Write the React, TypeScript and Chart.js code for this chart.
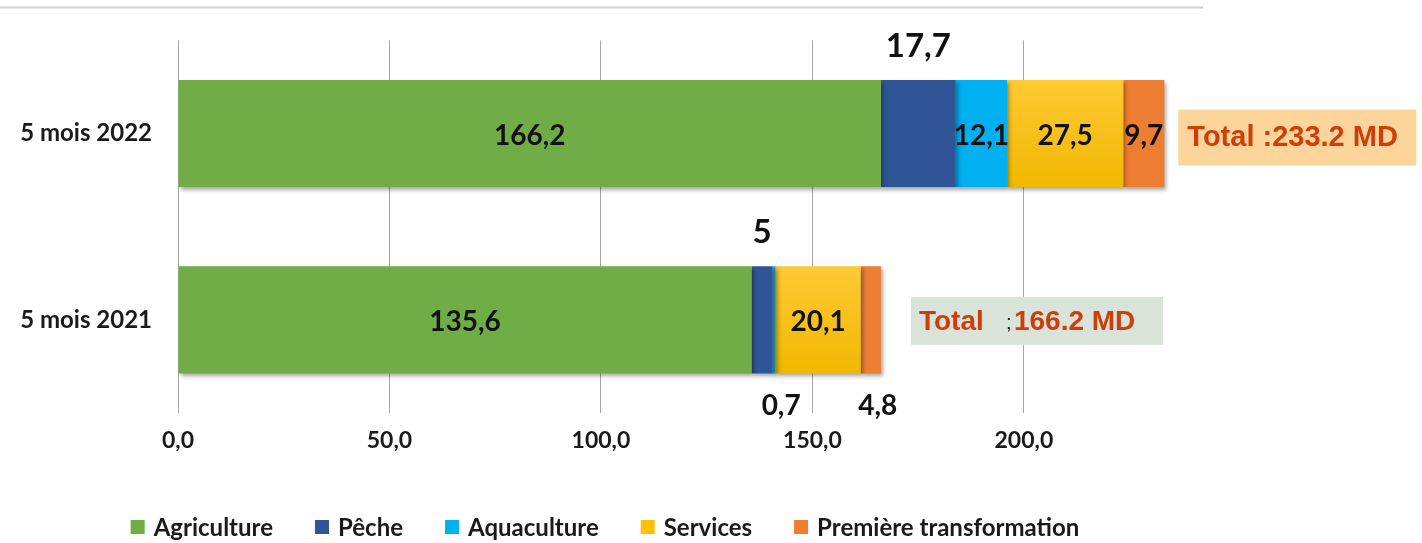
import React, { useEffect, useRef } from "react";
import { Chart, registerables } from "chart.js";

Chart.register(...registerables);

const categories = ["5 mois 2022", "5 mois 2021"];
const seriesNames = ["Agriculture", "Pêche", "Aquaculture", "Services", "Première transformation"];
const agriculture = [166.2, 135.6];
const peche = [17.7, 5];
const aquaculture = [12.1, 0.7];
const services = [27.5, 20.1];
const premiereTransformation = [9.7, 4.8];
const xTicks = [0, 50, 100, 150, 200];
const colors = ["#70ad47", "#2f5597", "#00b0f0", "#ffc000", "#ed7d31"];
// label placement per series / category
const labelPlacement = [
  ["in", "in"],
  ["above", "above"],
  ["in", "below"],
  ["in", "in"],
  ["in", "below"],
];

const FONT = "Lato, 'Open Sans', sans-serif";
const TOTAL_FONT = "'Liberation Sans', Arial, sans-serif";

const fmt = (v: number) => String(v).replace(".", ",");

const shadowPlugin = {
  id: "barShadow",
  beforeDatasetsDraw(chart: any) {
    const ctx = chart.ctx;
    ctx.save();
    ctx.shadowColor = "rgba(0,0,0,0.35)";
    ctx.shadowBlur = 4;
    ctx.shadowOffsetX = 2;
    ctx.shadowOffsetY = 3;
  },
  afterDatasetsDraw(chart: any) {
    chart.ctx.restore();
  },
};

const decorPlugin = {
  id: "decor",
  beforeDraw(chart: any) {
    const ctx = chart.ctx;
    ctx.save();
    ctx.fillStyle = "#ffffff";
    ctx.fillRect(0, 0, chart.width, chart.height);
    ctx.strokeStyle = "#d2d2d2";
    ctx.lineWidth = 2;
    ctx.beginPath();
    ctx.moveTo(0, 7.5);
    ctx.lineTo(1203, 7.5);
    ctx.stroke();
    ctx.restore();
  },
  afterDraw(chart: any) {
    const ctx = chart.ctx;
    ctx.save();
    // data labels
    chart.data.datasets.forEach((ds: any, di: number) => {
      const meta = chart.getDatasetMeta(di);
      meta.data.forEach((el: any, i: number) => {
        const v = ds.data[i];
        const place = labelPlacement[di][i];
        const cx = (el.x + el.base) / 2;
        const half = el.height / 2;
        ctx.fillStyle = "#111111";
        ctx.textAlign = "center";
        ctx.textBaseline = "middle";
        if (place === "in") {
          ctx.font = `bold 28px ${FONT}`;
          ctx.fillText(fmt(v), cx, el.y + 2);
        } else if (place === "above") {
          ctx.font = `bold 33px ${FONT}`;
          ctx.fillText(fmt(v), cx, el.y - half - 34);
        } else {
          ctx.font = `bold 28px ${FONT}`;
          ctx.fillText(fmt(v), cx + 7, el.y + half + 33);
        }
      });
    });
    // totals
    const last = chart.getDatasetMeta(chart.data.datasets.length - 1).data;
    const totals = categories.map((_, i) =>
      chart.data.datasets.reduce((s: number, ds: any) => s + ds.data[i], 0)
    );
    // box 2022
    {
      const el = last[0];
      const left = el.x + 14;
      const top = el.y - 24;
      ctx.fillStyle = "#fdd59b";
      ctx.fillRect(left, top, 238, 56);
      ctx.fillStyle = "#cf3d0a";
      ctx.font = `bold 29px ${TOTAL_FONT}`;
      ctx.textAlign = "left";
      ctx.textBaseline = "middle";
      ctx.fillText(`Total :${totals[0].toFixed(1)} MD`, left + 9, top + 28);
    }
    // box 2021
    {
      const el = last[1];
      const left = el.x + 30;
      const top = el.y - 23;
      ctx.fillStyle = "#d9e3da";
      ctx.fillRect(left, top, 252, 48);
      ctx.textAlign = "left";
      ctx.textBaseline = "middle";
      ctx.fillStyle = "#cf3d0a";
      ctx.font = `bold 28px ${TOTAL_FONT}`;
      ctx.fillText("Total", left + 8, top + 25);
      ctx.fillStyle = "#222222";
      ctx.font = `20px ${TOTAL_FONT}`;
      ctx.fillText(";", left + 95, top + 27);
      ctx.fillStyle = "#cf3d0a";
      ctx.font = `bold 28px ${TOTAL_FONT}`;
      ctx.fillText(`${totals[1].toFixed(1)} MD`, left + 103, top + 25);
    }
    // legend
    ctx.font = `bold 24px ${FONT}`;
    const box = 14;
    const gapText = 9;
    const gapItem = 42;
    const widths = seriesNames.map((n) => box + gapText + ctx.measureText(n).width);
    const total = widths.reduce((a, b) => a + b, 0) + gapItem * (seriesNames.length - 1);
    let x = 605 - total / 2;
    const ly = 527;
    seriesNames.forEach((n, i) => {
      ctx.fillStyle = colors[i];
      ctx.fillRect(x, ly - box / 2, box, box);
      ctx.fillStyle = "#1a1a1a";
      ctx.textAlign = "left";
      ctx.textBaseline = "middle";
      ctx.fillText(n, x + box + gapText, ly + 1);
      x += widths[i] + gapItem;
    });
    ctx.restore();
  },
};

export default function App() {
  const ref = useRef<HTMLCanvasElement>(null);
  useEffect(() => {
    if (!ref.current) return;
    const seriesData = [agriculture, peche, aquaculture, services, premiereTransformation];
    const chart = new Chart(ref.current, {
      type: "bar",
      data: {
        labels: categories,
        datasets: seriesNames.map((name, i) => ({
          label: name,
          data: seriesData[i],
          backgroundColor:
            i === 3
              ? (c: any) => {
                  const ch = c.chart;
                  const ys = ch.scales && ch.scales.y;
                  if (!ys || c.dataIndex === undefined) return colors[3];
                  const yc = ys.getPixelForValue(c.dataIndex);
                  if (!isFinite(yc)) return colors[3];
                  const g = ch.ctx.createLinearGradient(0, yc - 54, 0, yc + 54);
                  g.addColorStop(0, "#ffc935");
                  g.addColorStop(1, "#f0b800");
                  return g;
                }
              : colors[i],
          borderWidth: 0,
          barPercentage: 0.575,
          categoryPercentage: 1,
        })),
      },
      options: {
        indexAxis: "y",
        animation: false,
        responsive: false,
        maintainAspectRatio: false,
        layout: { padding: { top: 36, right: 212, bottom: 0, left: 0 } },
        plugins: {
          legend: { display: false },
          tooltip: { enabled: false },
        },
        scales: {
          x: {
            stacked: true,
            min: 0,
            max: 244,
            afterBuildTicks: (scale: any) => {
              scale.ticks = xTicks.map((v) => ({ value: v }));
            },
            afterFit: (scale: any) => {
              scale.height = 130;
            },
            grid: { color: "#a6a6a6", lineWidth: 1, drawTicks: false },
            border: { display: false },
            ticks: {
              padding: 14,
              color: "#1a1a1a",
              font: { family: FONT, size: 23, weight: "bold" },
              callback: (v: any) => Number(v).toFixed(1).replace(".", ","),
            },
          },
          y: {
            stacked: true,
            afterFit: (scale: any) => {
              scale.width = 178;
            },
            grid: { display: false, drawTicks: false },
            border: { display: false },
            ticks: {
              padding: 26,
              color: "#1a1a1a",
              font: { family: FONT, size: 24, weight: "bold" },
            },
          },
        },
      } as any,
      plugins: [decorPlugin, shadowPlugin],
    });
    return () => chart.destroy();
  }, []);
  return (
    <div style={{ position: "absolute", left: 0, top: 0, width: 1422, height: 543, background: "#fff" }}>
      <canvas ref={ref} width={1422} height={543} style={{ width: 1422, height: 543, display: "block" }} />
    </div>
  );
}
